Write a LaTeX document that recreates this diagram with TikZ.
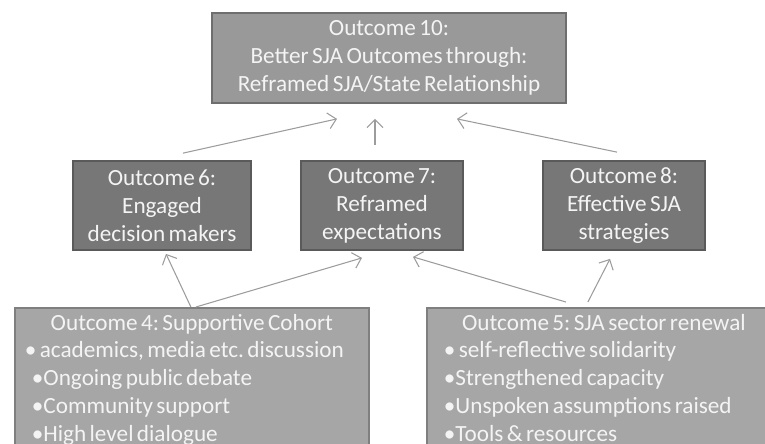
\documentclass[tikz,border=0pt]{standalone}
\usepackage{fontspec}
\setmainfont{Carlito}[WordSpace=0.65]
\frenchspacing
\usetikzlibrary{arrows.meta}
\definecolor{topfill}{HTML}{999999}
\definecolor{topline}{HTML}{6E6E6E}
\definecolor{midfill}{HTML}{777777}
\definecolor{midline}{HTML}{5A5A5A}
\definecolor{lowfill}{HTML}{A6A6A6}
\definecolor{lowline}{HTML}{7F7F7F}
\definecolor{txtcol}{HTML}{F4F4F4}
\definecolor{linkcol}{HTML}{9C9C9C}
\newcommand\lowhead[1]{\makebox[64mm]{#1}}
\tikzset{
  outbox/.style={draw=#1line, fill=#1fill, line width=1pt, text=txtcol,
    inner sep=0pt, align=center, font=\fontsize{13.2}{15.9}\selectfont},
  midbox/.style={outbox=mid, minimum width=32.4mm, minimum height=17.8mm},
  lowbox/.style={outbox=low, anchor=north west, align=left,
    minimum width=70.8mm, inner xsep=3.4mm, inner ysep=1.2mm},
  link/.style={draw=linkcol, line width=0.6pt,
    -{Straight Barb[length=1.6mm,width=3.2mm]}}
}
\begin{document}
\begin{tikzpicture}[x=0.2mm,y=-0.2mm]
  \useasboundingbox (0,0) rectangle (765,443);
  % 上段
  \node[outbox=top, minimum width=70.8mm, minimum height=18mm] (o10) at (389,58)
    {Outcome 10:\\Better SJA Outcomes through:\\Reframed SJA/State Relationship};
  % 中段
  \node[midbox, minimum width=35.6mm] (o6) at (162,205.5)
    {Outcome 6:\\Engaged\\decision makers};
  \node[midbox] (o7) at (382,205.5) {Outcome 7:\\Reframed\\expectations};
  \node[midbox] (o8) at (624,205.5) {Outcome 8:\\Effective SJA\\strategies};
  % 下段 (下端は図の外まで)
  \node[lowbox] (o4) at (14,307)
    {\lowhead{Outcome 4: Supportive Cohort}\\
     \hspace*{-1.4mm}• academics, media etc. discussion\\
     •Ongoing public debate\\
     •Community support\\
     •High level dialogue\\ \mbox{}};
  \node[lowbox] (o5) at (426,307)
    {\lowhead{Outcome 5: SJA sector renewal}\\
     • self-reflective solidarity\\
     •Strengthened capacity\\
     •Unspoken assumptions raised\\
     •Tools \& resources\\ \mbox{}};
  % 矢印
  \draw[link] ([shift={(21,-7)}]o6.north) -- ([shift={(-52,15)}]o10.south);
  \draw[link] ([shift={(-7,-15)}]o7.north) -- ([shift={(-14,15)}]o10.south);
  \draw[link] ([shift={(-7,-8)}]o8.north) -- ([shift={(68,15)}]o10.south);
  \draw[link] ([shift={(-1,0)}]o4.north) -- ([shift={(4,3)}]o6.south);
  \draw[link] ([shift={(4,0)}]o4.north) -- ([shift={(-20,7)}]o7.south);
  \draw[link] ([shift={(-38,-5)}]o5.north) -- ([shift={(31,6)}]o7.south);
  \draw[link] ([shift={(-16,-5)}]o5.north) -- ([shift={(-14,8)}]o8.south);
\end{tikzpicture}
\end{document}
